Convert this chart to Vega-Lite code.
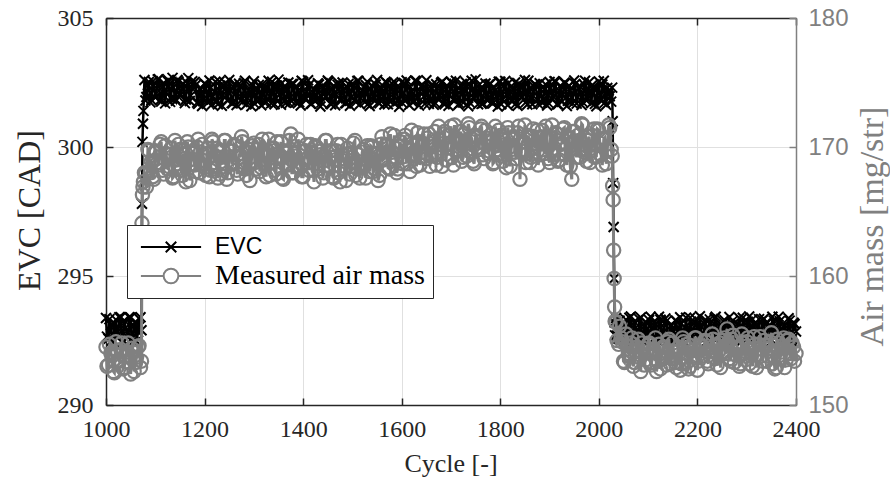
{
  "$schema": "https://vega.github.io/schema/vega-lite/v6.json",
  "width": 690,
  "height": 387,
  "autosize": {"type": "none"},
  "padding": {"left": 106, "top": 18, "right": 94, "bottom": 76},
  "background": "white",
  "config": {"view": {"stroke": null}, "axis": {"gridColor": "#e0e0e0", "gridWidth": 1, "domainWidth": 1.5, "tickWidth": 1.5, "labelOverlap": false, "labelBound": false}},
  "data": {"values": [
{"c":1000,"e":293.37,"a":154.5},{"c":1005,"e":292.57,"a":153.1},{"c":1010,"e":293.10,"a":154.0},{"c":1015,"e":292.44,"a":152.6},{"c":1020,"e":293.31,"a":154.9},{"c":1025,"e":292.73,"a":153.5},{"c":1030,"e":293.40,"a":154.3},{"c":1035,"e":292.50,"a":152.8},{"c":1040,"e":293.00,"a":153.8},{"c":1045,"e":292.62,"a":154.8},{"c":1050,"e":293.39,"a":152.4},{"c":1055,"e":292.45,"a":154.1},{"c":1060,"e":293.22,"a":153.3},{"c":1065,"e":292.83,"a":154.5},{"c":1070,"e":293.40,"a":152.9},
{"c":1072,"e":292.9,"a":153.4},{"c":1073,"e":297.8,"a":164.1},{"c":1074,"e":300.2,"a":166.3},{"c":1075,"e":300.9,"a":166.9},{"c":1076,"e":301.4,"a":167.3},{"c":1078,"e":302.6,"a":168.0},
{"c":1080,"e":301.80,"a":167.9},{"c":1085,"e":302.40,"a":169.8},{"c":1090,"e":301.73,"a":168.0},{"c":1095,"e":302.55,"a":167.7},{"c":1100,"e":301.92,"a":169.7},{"c":1105,"e":302.62,"a":168.8},{"c":1110,"e":301.82,"a":170.2},{"c":1115,"e":302.35,"a":168.2},{"c":1120,"e":301.69,"a":170.1},{"c":1125,"e":302.56,"a":168.3},{"c":1130,"e":301.75,"a":169.4},{"c":1135,"e":302.68,"a":167.6},{"c":1140,"e":301.87,"a":170.5},{"c":1145,"e":302.60,"a":168.7},{"c":1150,"e":302.00,"a":169.8},{"c":1155,"e":302.43,"a":167.8},{"c":1160,"e":301.70,"a":169.1},{"c":1165,"e":302.47,"a":170.4},{"c":1170,"e":301.78,"a":167.4},{"c":1175,"e":302.55,"a":169.5},
{"c":1180,"e":302.52,"a":168.6},{"c":1185,"e":301.72,"a":170.0},{"c":1190,"e":302.25,"a":168.0},{"c":1195,"e":301.59,"a":170.2},{"c":1200,"e":302.46,"a":168.4},{"c":1205,"e":301.88,"a":169.5},{"c":1210,"e":302.58,"a":167.7},{"c":1215,"e":301.65,"a":170.6},{"c":1220,"e":302.15,"a":168.8},{"c":1225,"e":301.77,"a":169.9},{"c":1230,"e":302.54,"a":167.9},{"c":1235,"e":301.60,"a":169.2},{"c":1240,"e":302.37,"a":170.5},{"c":1245,"e":301.98,"a":167.5},{"c":1250,"e":302.60,"a":169.7},{"c":1255,"e":301.70,"a":168.8},{"c":1260,"e":302.30,"a":170.2},{"c":1265,"e":301.63,"a":168.2},{"c":1270,"e":302.45,"a":169.5},{"c":1275,"e":301.82,"a":170.8},
{"c":1280,"e":302.48,"a":168.5},{"c":1285,"e":301.66,"a":167.8},{"c":1290,"e":302.20,"a":169.8},{"c":1295,"e":301.58,"a":168.9},{"c":1300,"e":302.55,"a":170.3},{"c":1305,"e":301.84,"a":168.3},{"c":1310,"e":302.40,"a":170.2},{"c":1315,"e":301.62,"a":168.4},{"c":1320,"e":302.28,"a":169.5},{"c":1325,"e":301.75,"a":167.7},{"c":1330,"e":302.57,"a":170.6},{"c":1335,"e":301.69,"a":168.8},{"c":1340,"e":302.33,"a":169.9},{"c":1345,"e":301.90,"a":167.9},{"c":1350,"e":302.61,"a":169.2},{"c":1355,"e":301.64,"a":170.4},{"c":1360,"e":302.24,"a":167.5},{"c":1365,"e":301.71,"a":169.6},{"c":1370,"e":302.50,"a":168.6},{"c":1375,"e":301.80,"a":171.0},
{"c":1380,"e":302.44,"a":168.0},{"c":1385,"e":301.73,"a":169.3},{"c":1390,"e":302.18,"a":170.6},{"c":1395,"e":301.61,"a":168.4},{"c":1400,"e":302.52,"a":167.7},{"c":1405,"e":301.86,"a":169.7},{"c":1410,"e":302.59,"a":168.8},{"c":1415,"e":301.67,"a":170.2},{"c":1420,"e":302.12,"a":168.2},{"c":1425,"e":301.79,"a":170.1},{"c":1430,"e":302.47,"a":168.3},{"c":1435,"e":301.57,"a":169.4},{"c":1440,"e":302.36,"a":167.6},{"c":1445,"e":301.95,"a":170.5},{"c":1450,"e":302.58,"a":168.6},{"c":1455,"e":301.68,"a":169.7},{"c":1460,"e":302.26,"a":167.7},{"c":1465,"e":301.62,"a":169.0},{"c":1470,"e":302.41,"a":170.2},{"c":1475,"e":301.85,"a":167.3},
{"c":1480,"e":302.50,"a":169.4},{"c":1485,"e":301.70,"a":168.5},{"c":1490,"e":302.30,"a":169.9},{"c":1495,"e":301.60,"a":167.9},{"c":1500,"e":302.45,"a":169.2},{"c":1505,"e":301.83,"a":170.5},{"c":1510,"e":302.56,"a":168.3},{"c":1515,"e":301.66,"a":167.6},{"c":1520,"e":302.20,"a":169.6},{"c":1525,"e":301.74,"a":168.7},{"c":1530,"e":302.53,"a":170.1},{"c":1535,"e":301.59,"a":168.1},{"c":1540,"e":302.38,"a":170.0},{"c":1545,"e":301.92,"a":168.3},{"c":1550,"e":302.60,"a":169.5},{"c":1555,"e":301.69,"a":167.8},{"c":1560,"e":302.27,"a":170.8},{"c":1565,"e":301.65,"a":169.1},{"c":1570,"e":302.48,"a":170.2},{"c":1575,"e":301.78,"a":168.3},
{"c":1580,"e":302.46,"a":169.6},{"c":1585,"e":301.68,"a":170.9},{"c":1590,"e":302.22,"a":168.0},{"c":1595,"e":301.56,"a":170.1},{"c":1600,"e":302.51,"a":169.2},{"c":1605,"e":301.87,"a":170.6},{"c":1610,"e":302.58,"a":168.7},{"c":1615,"e":301.63,"a":169.9},{"c":1620,"e":302.16,"a":171.3},{"c":1625,"e":301.76,"a":169.1},{"c":1630,"e":302.55,"a":168.5},{"c":1635,"e":301.61,"a":170.4},{"c":1640,"e":302.34,"a":169.6},{"c":1645,"e":301.96,"a":171.0},{"c":1650,"e":302.59,"a":169.1},{"c":1655,"e":301.67,"a":171.0},{"c":1660,"e":302.29,"a":169.3},{"c":1665,"e":301.64,"a":170.4},{"c":1670,"e":302.43,"a":168.6},{"c":1675,"e":301.83,"a":171.6},
{"c":1680,"e":302.49,"a":169.9},{"c":1685,"e":301.71,"a":171.0},{"c":1690,"e":302.24,"a":169.0},{"c":1695,"e":301.60,"a":170.3},{"c":1700,"e":302.54,"a":171.6},{"c":1705,"e":301.85,"a":168.6},{"c":1710,"e":302.57,"a":170.7},{"c":1715,"e":301.64,"a":169.7},{"c":1720,"e":302.18,"a":171.2},{"c":1725,"e":301.72,"a":169.2},{"c":1730,"e":302.51,"a":170.5},{"c":1735,"e":301.58,"a":171.8},{"c":1740,"e":302.39,"a":169.6},{"c":1745,"e":301.93,"a":168.9},{"c":1750,"e":302.62,"a":170.9},{"c":1755,"e":301.66,"a":170.0},{"c":1760,"e":302.25,"a":171.4},{"c":1765,"e":301.69,"a":169.4},{"c":1770,"e":302.46,"a":171.3},{"c":1775,"e":301.81,"a":169.5},
{"c":1780,"e":302.45,"a":170.5},{"c":1785,"e":301.69,"a":168.7},{"c":1790,"e":302.21,"a":171.6},{"c":1795,"e":301.57,"a":169.8},{"c":1800,"e":302.53,"a":170.9},{"c":1805,"e":301.84,"a":168.9},{"c":1810,"e":302.56,"a":170.2},{"c":1815,"e":301.62,"a":171.5},{"c":1820,"e":302.14,"a":168.5},{"c":1825,"e":301.78,"a":170.6},{"c":1830,"e":302.50,"a":169.6},{"c":1835,"e":301.60,"a":171.1},{"c":1840,"e":302.35,"a":167.5},{"c":1845,"e":301.94,"a":170.4},{"c":1850,"e":302.60,"a":171.7},{"c":1855,"e":301.65,"a":169.5},{"c":1860,"e":302.28,"a":168.8},{"c":1865,"e":301.66,"a":170.8},{"c":1870,"e":302.44,"a":169.9},{"c":1875,"e":301.82,"a":171.3},
{"c":1880,"e":302.47,"a":169.4},{"c":1885,"e":301.72,"a":171.3},{"c":1890,"e":302.23,"a":169.5},{"c":1895,"e":301.61,"a":170.6},{"c":1900,"e":302.52,"a":168.8},{"c":1905,"e":301.86,"a":171.7},{"c":1910,"e":302.55,"a":169.9},{"c":1915,"e":301.66,"a":171.0},{"c":1920,"e":302.17,"a":169.0},{"c":1925,"e":301.75,"a":170.3},{"c":1930,"e":302.49,"a":171.5},{"c":1935,"e":301.59,"a":168.6},{"c":1940,"e":302.37,"a":170.7},{"c":1945,"e":301.91,"a":167.5},{"c":1950,"e":302.58,"a":171.2},{"c":1955,"e":301.68,"a":169.2},{"c":1960,"e":302.26,"a":170.5},{"c":1965,"e":301.63,"a":171.8},{"c":1970,"e":302.42,"a":169.6},{"c":1975,"e":301.80,"a":168.9},
{"c":1980,"e":302.51,"a":170.8},{"c":1985,"e":301.70,"a":169.9},{"c":1990,"e":302.27,"a":171.4},{"c":1995,"e":301.58,"a":169.3},{"c":2000,"e":302.54,"a":171.3},{"c":2005,"e":301.83,"a":169.4},{"c":2010,"e":302.57,"a":170.6},{"c":2015,"e":301.64,"a":168.7},{"c":2020,"e":302.19,"a":171.7},{"c":2025,"e":301.76,"a":169.8},
{"c":2027,"e":302.3,"a":169.3},{"c":2028,"e":301.0,"a":167.0},{"c":2029,"e":298.6,"a":165.9},{"c":2030,"e":296.9,"a":162.0},{"c":2031,"e":294.9,"a":159.8},{"c":2032,"e":293.2,"a":157.6},{"c":2033,"e":292.7,"a":156.5},
{"c":2035,"e":293.37,"a":156.4},{"c":2040,"e":292.57,"a":154.7},{"c":2045,"e":293.10,"a":155.2},{"c":2050,"e":292.44,"a":153.4},{"c":2055,"e":293.31,"a":155.5},{"c":2060,"e":292.73,"a":154.0},{"c":2065,"e":293.43,"a":154.8},{"c":2070,"e":292.50,"a":153.0},{"c":2075,"e":293.00,"a":154.1},{"c":2080,"e":292.62,"a":155.1},{"c":2085,"e":293.39,"a":152.6},{"c":2090,"e":292.45,"a":154.4},{"c":2095,"e":293.22,"a":153.5},{"c":2100,"e":292.83,"a":154.7},{"c":2105,"e":293.42,"a":153.1},{"c":2110,"e":292.55,"a":154.1},{"c":2115,"e":293.15,"a":155.2},{"c":2120,"e":292.48,"a":153.4},{"c":2125,"e":293.30,"a":152.8},{"c":2130,"e":292.67,"a":154.5},
{"c":2135,"e":293.35,"a":153.7},{"c":2140,"e":292.60,"a":154.9},{"c":2145,"e":293.05,"a":153.2},{"c":2150,"e":292.46,"a":154.8},{"c":2155,"e":293.28,"a":153.3},{"c":2160,"e":292.70,"a":154.2},{"c":2165,"e":293.40,"a":152.7},{"c":2170,"e":292.52,"a":155.2},{"c":2175,"e":293.02,"a":153.7},{"c":2180,"e":292.64,"a":154.7},{"c":2185,"e":293.38,"a":153.0},{"c":2190,"e":292.47,"a":154.2},{"c":2195,"e":293.20,"a":155.2},{"c":2200,"e":292.80,"a":152.7},{"c":2205,"e":293.44,"a":154.6},{"c":2210,"e":292.56,"a":153.8},{"c":2215,"e":293.14,"a":155.0},{"c":2220,"e":292.49,"a":153.4},{"c":2225,"e":293.32,"a":154.4},{"c":2230,"e":292.68,"a":155.5},
{"c":2235,"e":293.36,"a":153.7},{"c":2240,"e":292.58,"a":153.1},{"c":2245,"e":293.08,"a":154.8},{"c":2250,"e":292.45,"a":154.0},{"c":2255,"e":293.29,"a":155.2},{"c":2260,"e":292.72,"a":155.9},{"c":2265,"e":293.41,"a":153.6},{"c":2270,"e":292.51,"a":155.1},{"c":2275,"e":293.03,"a":153.3},{"c":2280,"e":292.63,"a":154.5},{"c":2285,"e":293.37,"a":153.0},{"c":2290,"e":292.48,"a":155.5},{"c":2295,"e":293.21,"a":154.0},{"c":2300,"e":292.82,"a":154.9},{"c":2305,"e":293.43,"a":153.2},{"c":2310,"e":292.54,"a":154.3},{"c":2315,"e":293.13,"a":155.3},{"c":2320,"e":292.50,"a":152.9},{"c":2325,"e":293.33,"a":154.7},{"c":2330,"e":292.66,"a":153.8},
{"c":2335,"e":293.34,"a":155.0},{"c":2340,"e":292.59,"a":153.4},{"c":2345,"e":293.06,"a":154.4},{"c":2350,"e":292.47,"a":155.6},{"c":2355,"e":293.27,"a":153.7},{"c":2360,"e":292.71,"a":152.9},{"c":2365,"e":293.42,"a":154.8},{"c":2370,"e":292.53,"a":154.1},{"c":2375,"e":293.01,"a":155.2},{"c":2380,"e":292.65,"a":153.5},{"c":2385,"e":293.36,"a":155.1},{"c":2390,"e":292.49,"a":153.6},{"c":2395,"e":293.19,"a":154.5},{"c":2400,"e":292.85,"a":154.0},
{"c":1002,"e":292.65,"a":153.0},{"c":1007,"e":293.33,"a":154.7},{"c":1012,"e":292.50,"a":153.8},{"c":1017,"e":293.17,"a":152.5},{"c":1022,"e":292.80,"a":154.2},{"c":1027,"e":293.40,"a":153.4},{"c":1032,"e":292.43,"a":154.8},{"c":1037,"e":293.28,"a":152.9},{"c":1042,"e":292.87,"a":154.1},{"c":1047,"e":293.40,"a":153.3},{"c":1052,"e":292.59,"a":154.4},{"c":1057,"e":293.07,"a":152.6},{"c":1062,"e":292.47,"a":153.7},{"c":1067,"e":293.35,"a":154.6},
{"c":1082,"e":301.94,"a":166.9},{"c":1087,"e":302.52,"a":169.7},{"c":1092,"e":301.82,"a":168.9},{"c":1097,"e":302.39,"a":167.5},{"c":1102,"e":302.07,"a":169.6},{"c":1107,"e":302.63,"a":168.6},{"c":1112,"e":301.76,"a":170.4},{"c":1117,"e":302.48,"a":167.9},{"c":1122,"e":302.13,"a":169.5},{"c":1127,"e":302.58,"a":168.5},{"c":1132,"e":301.89,"a":169.9},{"c":1137,"e":302.30,"a":167.7},{"c":1142,"e":301.79,"a":169.0},{"c":1147,"e":302.54,"a":170.2},{"c":1152,"e":302.03,"a":168.2},{"c":1157,"e":302.44,"a":169.5},{"c":1162,"e":301.84,"a":167.3},{"c":1167,"e":302.67,"a":170.0},{"c":1172,"e":301.99,"a":168.7},{"c":1177,"e":302.24,"a":169.7},
{"c":1182,"e":302.40,"a":168.1},{"c":1187,"e":301.67,"a":170.6},{"c":1192,"e":302.25,"a":168.7},{"c":1197,"e":301.84,"a":169.4},{"c":1202,"e":302.42,"a":167.8},{"c":1207,"e":301.72,"a":169.9},{"c":1212,"e":302.29,"a":168.2},{"c":1217,"e":301.97,"a":170.4},{"c":1222,"e":302.53,"a":169.3},{"c":1227,"e":301.66,"a":167.6},{"c":1232,"e":302.38,"a":169.7},{"c":1237,"e":302.03,"a":168.7},{"c":1242,"e":302.48,"a":170.5},{"c":1247,"e":301.79,"a":168.0},{"c":1252,"e":302.20,"a":169.7},{"c":1257,"e":301.69,"a":168.7},{"c":1262,"e":302.44,"a":170.1},{"c":1267,"e":301.93,"a":167.9},{"c":1272,"e":302.34,"a":169.2},{"c":1277,"e":301.74,"a":170.4},
{"c":1282,"e":302.57,"a":168.3},{"c":1287,"e":301.89,"a":169.6},{"c":1292,"e":302.14,"a":167.4},{"c":1297,"e":302.40,"a":170.1},{"c":1302,"e":301.67,"a":168.8},{"c":1307,"e":302.25,"a":169.8},{"c":1312,"e":301.84,"a":168.1},{"c":1317,"e":302.42,"a":170.6},{"c":1322,"e":301.72,"a":168.7},{"c":1327,"e":302.29,"a":169.4},{"c":1332,"e":301.97,"a":167.8},{"c":1337,"e":302.53,"a":169.9},{"c":1342,"e":301.66,"a":168.2},{"c":1347,"e":302.38,"a":170.4},{"c":1352,"e":302.03,"a":169.3},{"c":1357,"e":302.48,"a":167.6},{"c":1362,"e":301.79,"a":169.7},{"c":1367,"e":302.20,"a":168.7},{"c":1372,"e":301.69,"a":170.5},{"c":1377,"e":302.44,"a":168.0},
{"c":1382,"e":301.93,"a":169.5},{"c":1387,"e":302.34,"a":168.5},{"c":1392,"e":301.74,"a":169.9},{"c":1397,"e":302.57,"a":167.7},{"c":1402,"e":301.89,"a":169.0},{"c":1407,"e":302.14,"a":170.2},{"c":1412,"e":302.40,"a":168.2},{"c":1417,"e":301.67,"a":169.5},{"c":1422,"e":302.25,"a":167.3},{"c":1427,"e":301.84,"a":170.0},{"c":1432,"e":302.42,"a":168.7},{"c":1437,"e":301.72,"a":169.7},{"c":1442,"e":302.29,"a":168.0},{"c":1447,"e":301.97,"a":170.5},{"c":1452,"e":302.53,"a":168.5},{"c":1457,"e":301.66,"a":169.2},{"c":1462,"e":302.38,"a":167.6},{"c":1467,"e":302.03,"a":169.7},{"c":1472,"e":302.48,"a":168.0},{"c":1477,"e":301.79,"a":170.2},
{"c":1482,"e":302.20,"a":169.1},{"c":1487,"e":301.69,"a":167.4},{"c":1492,"e":302.44,"a":169.5},{"c":1497,"e":301.93,"a":168.5},{"c":1502,"e":302.34,"a":170.3},{"c":1507,"e":301.74,"a":167.8},{"c":1512,"e":302.57,"a":169.4},{"c":1517,"e":301.89,"a":168.4},{"c":1522,"e":302.14,"a":169.8},{"c":1527,"e":302.40,"a":167.6},{"c":1532,"e":301.67,"a":168.9},{"c":1537,"e":302.25,"a":170.1},{"c":1542,"e":301.84,"a":168.1},{"c":1547,"e":302.42,"a":169.5},{"c":1552,"e":301.72,"a":167.4},{"c":1557,"e":302.29,"a":170.2},{"c":1562,"e":301.97,"a":169.0},{"c":1567,"e":302.53,"a":170.1},{"c":1572,"e":301.66,"a":168.4},{"c":1577,"e":302.38,"a":171.0},
{"c":1582,"e":302.03,"a":169.2},{"c":1587,"e":302.48,"a":169.9},{"c":1592,"e":301.79,"a":168.3},{"c":1597,"e":302.20,"a":170.4},{"c":1602,"e":301.69,"a":168.7},{"c":1607,"e":302.44,"a":170.9},{"c":1612,"e":301.93,"a":169.8},{"c":1617,"e":302.34,"a":168.1},{"c":1622,"e":301.74,"a":170.3},{"c":1627,"e":302.57,"a":169.3},{"c":1632,"e":301.89,"a":171.1},{"c":1637,"e":302.14,"a":168.6},{"c":1642,"e":302.40,"a":170.3},{"c":1647,"e":301.67,"a":169.3},{"c":1652,"e":302.25,"a":170.7},{"c":1657,"e":301.84,"a":168.5},{"c":1662,"e":302.42,"a":170.0},{"c":1667,"e":301.72,"a":171.2},{"c":1672,"e":302.29,"a":169.2},{"c":1677,"e":301.97,"a":170.5},
{"c":1682,"e":302.53,"a":168.5},{"c":1687,"e":301.66,"a":171.2},{"c":1692,"e":302.38,"a":169.9},{"c":1697,"e":302.03,"a":170.9},{"c":1702,"e":302.48,"a":169.2},{"c":1707,"e":301.79,"a":171.7},{"c":1712,"e":302.20,"a":169.8},{"c":1717,"e":301.69,"a":170.5},{"c":1722,"e":302.44,"a":168.9},{"c":1727,"e":301.93,"a":171.0},{"c":1732,"e":302.34,"a":169.3},{"c":1737,"e":301.74,"a":171.5},{"c":1742,"e":302.57,"a":170.4},{"c":1747,"e":301.89,"a":168.7},{"c":1752,"e":302.14,"a":170.8},{"c":1757,"e":302.40,"a":169.8},{"c":1762,"e":301.67,"a":171.6},{"c":1767,"e":302.25,"a":169.1},{"c":1772,"e":301.84,"a":170.7},{"c":1777,"e":302.42,"a":169.7},
{"c":1782,"e":301.72,"a":171.0},{"c":1787,"e":302.29,"a":168.8},{"c":1792,"e":301.97,"a":170.1},{"c":1797,"e":302.53,"a":171.3},{"c":1802,"e":301.66,"a":169.3},{"c":1807,"e":302.38,"a":170.6},{"c":1812,"e":302.03,"a":168.4},{"c":1817,"e":302.48,"a":171.1},{"c":1822,"e":301.79,"a":169.8},{"c":1827,"e":302.20,"a":170.8},{"c":1832,"e":301.69,"a":169.1},{"c":1837,"e":302.44,"a":171.6},{"c":1842,"e":301.93,"a":169.7},{"c":1847,"e":302.34,"a":170.4},{"c":1852,"e":301.74,"a":168.8},{"c":1857,"e":302.57,"a":170.9},{"c":1862,"e":301.89,"a":169.2},{"c":1867,"e":302.14,"a":171.4},{"c":1872,"e":302.40,"a":170.3},{"c":1877,"e":301.67,"a":168.6},
{"c":1882,"e":302.25,"a":170.8},{"c":1887,"e":301.84,"a":169.8},{"c":1892,"e":302.42,"a":171.6},{"c":1897,"e":301.72,"a":169.1},{"c":1902,"e":302.29,"a":170.7},{"c":1907,"e":301.97,"a":169.7},{"c":1912,"e":302.53,"a":171.1},{"c":1917,"e":301.66,"a":168.9},{"c":1922,"e":302.38,"a":170.2},{"c":1927,"e":302.03,"a":171.4},{"c":1932,"e":302.48,"a":169.4},{"c":1937,"e":301.79,"a":170.7},{"c":1942,"e":302.20,"a":168.5},{"c":1947,"e":301.69,"a":171.2},{"c":1952,"e":302.44,"a":169.9},{"c":1957,"e":301.93,"a":170.9},{"c":1962,"e":302.34,"a":169.2},{"c":1967,"e":301.74,"a":171.7},{"c":1972,"e":302.57,"a":169.8},{"c":1977,"e":301.89,"a":170.5},
{"c":1982,"e":302.14,"a":168.8},{"c":1987,"e":302.40,"a":170.9},{"c":1992,"e":301.67,"a":169.2},{"c":1997,"e":302.25,"a":171.4},{"c":2002,"e":301.84,"a":170.3},{"c":2007,"e":302.42,"a":168.6},{"c":2012,"e":301.72,"a":170.7},{"c":2017,"e":302.29,"a":169.7},{"c":2022,"e":301.97,"a":171.5},
{"c":2037,"e":292.69,"a":155.0},{"c":2042,"e":293.27,"a":156.1},{"c":2047,"e":292.57,"a":154.9},{"c":2052,"e":293.14,"a":153.3},{"c":2057,"e":292.82,"a":154.6},{"c":2062,"e":293.38,"a":153.8},{"c":2067,"e":292.51,"a":155.2},{"c":2072,"e":293.23,"a":153.3},{"c":2077,"e":292.88,"a":154.5},{"c":2082,"e":293.33,"a":153.7},{"c":2087,"e":292.64,"a":154.8},{"c":2092,"e":293.05,"a":153.1},{"c":2097,"e":292.54,"a":154.1},{"c":2102,"e":293.29,"a":154.8},{"c":2107,"e":292.78,"a":153.3},{"c":2112,"e":293.19,"a":154.3},{"c":2117,"e":292.59,"a":152.6},{"c":2122,"e":293.42,"a":154.7},{"c":2127,"e":292.74,"a":153.7},{"c":2132,"e":292.99,"a":154.5},
{"c":2137,"e":293.25,"a":153.1},{"c":2142,"e":292.52,"a":155.1},{"c":2147,"e":293.10,"a":153.6},{"c":2152,"e":292.69,"a":154.1},{"c":2157,"e":293.27,"a":152.9},{"c":2162,"e":292.57,"a":154.5},{"c":2167,"e":293.14,"a":153.2},{"c":2172,"e":292.82,"a":154.9},{"c":2177,"e":293.38,"a":154.0},{"c":2182,"e":292.51,"a":152.8},{"c":2187,"e":293.23,"a":154.6},{"c":2192,"e":292.88,"a":153.8},{"c":2197,"e":293.33,"a":155.2},{"c":2202,"e":292.64,"a":153.4},{"c":2207,"e":293.05,"a":154.6},{"c":2212,"e":292.54,"a":153.8},{"c":2217,"e":293.29,"a":154.9},{"c":2222,"e":292.78,"a":153.2},{"c":2227,"e":293.19,"a":154.2},{"c":2232,"e":292.59,"a":155.1},
{"c":2237,"e":293.42,"a":153.6},{"c":2242,"e":292.74,"a":154.6},{"c":2247,"e":292.99,"a":152.9},{"c":2252,"e":293.25,"a":155.0},{"c":2257,"e":292.52,"a":154.0},{"c":2262,"e":293.10,"a":154.8},{"c":2267,"e":292.69,"a":153.4},{"c":2272,"e":293.27,"a":155.4},{"c":2277,"e":292.57,"a":153.9},{"c":2282,"e":293.14,"a":154.4},{"c":2287,"e":292.82,"a":153.2},{"c":2292,"e":293.38,"a":154.8},{"c":2297,"e":292.51,"a":153.5},{"c":2302,"e":293.23,"a":155.2},{"c":2307,"e":292.88,"a":154.3},{"c":2312,"e":293.33,"a":153.0},{"c":2317,"e":292.64,"a":154.7},{"c":2322,"e":293.05,"a":153.9},{"c":2327,"e":292.54,"a":155.3},{"c":2332,"e":293.29,"a":153.4},
{"c":2337,"e":292.78,"a":154.6},{"c":2342,"e":293.19,"a":153.8},{"c":2347,"e":292.59,"a":154.9},{"c":2352,"e":293.42,"a":153.2},{"c":2357,"e":292.74,"a":152.8},{"c":2362,"e":292.99,"a":155.1},{"c":2367,"e":293.25,"a":153.6},{"c":2372,"e":292.52,"a":154.6},{"c":2377,"e":293.10,"a":152.9},{"c":2382,"e":292.69,"a":155.0},{"c":2387,"e":293.27,"a":154.0},{"c":2392,"e":292.57,"a":154.8},{"c":2397,"e":293.14,"a":153.4}
  ]},
  "layer": [
    {
      "encoding": {
        "x": {"field": "c", "type": "quantitative", "scale": {"domain": [1000, 2400], "nice": false, "zero": false},
          "axis": {"orient": "bottom", "values": [1000, 1200, 1400, 1600, 1800, 2000, 2200, 2400], "format": "d", "grid": true, "tickSize": -7, "tickColor": "#262626", "domainColor": "#262626", "labelFont": "Liberation Serif", "labelFontSize": 24, "labelColor": "#262626", "labelPadding": 19, "labelFlush": false, "title": "Cycle [-]", "titleFont": "Liberation Serif", "titleFontSize": 26, "titleFontWeight": "normal", "titleColor": "#262626", "titleX": 344.5, "titleY": 58, "titleBaseline": "middle", "titleAlign": "center"}},
        "y": {"field": "e", "type": "quantitative", "scale": {"domain": [290, 305], "nice": false, "zero": false},
          "axis": {"orient": "left", "values": [290, 295, 300, 305], "grid": true, "tickSize": -7, "tickColor": "#262626", "domainColor": "#262626", "labelFont": "Liberation Serif", "labelFontSize": 24, "labelColor": "#262626", "labelPadding": 20, "labelFlush": false, "title": "EVC [CAD]", "titleFont": "Liberation Serif", "titleFontSize": 32, "titleFontWeight": "normal", "titleColor": "#262626", "titleX": -77, "titleY": 192, "titleAngle": 270, "titleBaseline": "middle", "titleAlign": "center"}},
        "color": {"datum": "EVC", "type": "nominal",
          "scale": {"domain": ["EVC", "Measured air mass"], "range": ["#000000", "#808080"]},
          "legend": {"orient": "none", "legendX": 21, "legendY": 207, "title": null, "fillColor": "white", "strokeColor": "#262626", "padding": 8, "cornerRadius": 0, "symbolSize": 196, "symbolStrokeWidth": 2, "symbolOffset": 22, "labelOffset": 30, "labelFont": "Liberation Serif", "labelFontSize": 28, "labelColor": "#000000", "labelLimit": 400, "rowPadding": 3,
            "encode": {
              "symbols": {"update": {
                "shape": {"signal": "datum.value === 'EVC' ? 'M-4.3,0H4.3M-0.75,-0.75L0.75,0.75M-0.75,0.75L0.75,-0.75' : 'M-4.3,0H-1.05M1.05,0H4.3M-1.05,0A1.05,1.05 0 1,1 1.05,0A1.05,1.05 0 1,1 -1.05,0'"},
                "stroke": {"signal": "datum.value === 'EVC' ? '#000000' : '#808080'"},
                "fill": {"value": "transparent"},
                "strokeWidth": {"value": 2},
                "opacity": {"value": 1}
              }},
              "labels": {"update": {
                "font": {"signal": "datum.value === 'EVC' ? 'Liberation Sans' : 'Liberation Serif'"},
                "fontSize": {"signal": "datum.value === 'EVC' ? 23 : 28"}
              }}
            }}}
      },
      "layer": [
        {"mark": {"type": "line", "strokeWidth": 2.5}},
        {"mark": {"type": "point", "shape": "M-1,-1L1,1M-1,1L1,-1", "size": 100, "filled": false, "strokeWidth": 2, "opacity": 1}}
      ]
    },
    {
      "encoding": {
        "x": {"field": "c", "type": "quantitative",
          "axis": {"orient": "top", "values": [1000, 1200, 1400, 1600, 1800, 2000, 2200, 2400], "labels": false, "title": null, "grid": false, "tickSize": -7, "tickColor": "#262626", "domainColor": "#262626"}},
        "y": {"field": "a", "type": "quantitative", "scale": {"domain": [150, 180], "nice": false, "zero": false},
          "axis": {"orient": "right", "values": [150, 160, 170, 180], "grid": false, "tickSize": -7, "tickColor": "#808080", "domainColor": "#808080", "labelFont": "Liberation Sans", "labelFontSize": 24, "labelColor": "#808080", "labelPadding": 19, "labelFlush": false, "title": "Air mass [mg/str]", "titleFont": "Liberation Serif", "titleFontSize": 34, "titleFontWeight": "normal", "titleColor": "#808080", "titleX": 76, "titleY": 208, "titleAngle": 270, "titleBaseline": "middle", "titleAlign": "center"}},
        "color": {"datum": "Measured air mass", "type": "nominal"}
      },
      "layer": [
        {"mark": {"type": "line", "strokeWidth": 3}},
        {"mark": {"type": "point", "shape": "circle", "size": 177, "filled": false, "strokeWidth": 2.2, "opacity": 1}}
      ]
    }
  ],
  "resolve": {"scale": {"y": "independent"}}
}
